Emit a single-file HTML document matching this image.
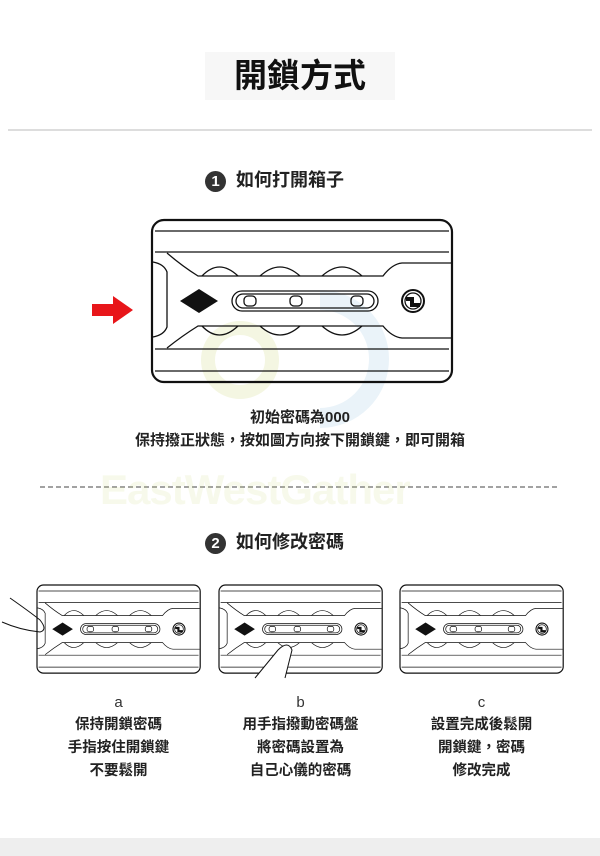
<!DOCTYPE html>
<html><head><meta charset="utf-8"><style>
html,body{margin:0;padding:0;background:#fff;}
body{width:600px;height:856px;position:relative;overflow:hidden;font-family:"Liberation Sans","Noto Sans CJK TC",sans-serif;color:#222;}
.t{position:absolute;white-space:nowrap;font-weight:bold;}
.c{text-align:center;}
</style></head><body>
<div style="position:absolute;left:205px;top:52px;width:190px;height:48px;background:#f7f7f7"></div>
<div class="t" style="left:234px;top:56px;font-size:33px;line-height:40px;color:#111">開鎖方式</div>
<div style="position:absolute;left:8px;top:129px;width:584px;height:2px;background:#ddd"></div>

<div class="t" style="left:205px;top:168px;font-size:18px;line-height:24px;"><span style="display:inline-block;width:21px;height:21px;border-radius:50%;background:#333;color:#fff;font-size:15px;line-height:21px;text-align:center;vertical-align:middle">1</span>&nbsp;&nbsp;如何打開箱子</div>

<svg width="600" height="856" style="position:absolute;left:0;top:0">
<defs>
<g id="lk" fill="none" stroke="#111" stroke-width="1.3">
<rect x="0" y="0" width="300" height="162" rx="12" stroke-width="2.2"/>
<line x1="3" y1="11" x2="297" y2="11"/>
<line x1="3" y1="32" x2="297" y2="32"/>
<line x1="3" y1="129" x2="297" y2="129"/>
<line x1="3" y1="151" x2="297" y2="151"/>
<path d="M1 42 Q12 44 15 52 L15 107 Q12 115 1 117"/>
<path d="M15 33 Q30 46 46 56 L231 56 Q240 44 250 43 L299 43"/>
<path d="M15 128 Q30 116 46 106 L231 106 Q240 117 250 118 L299 118"/>
<path d="M50 56 Q67 38 86 56 M108 56 Q128 38 148 56 M170 56 Q190 38 210 56"/>
<path d="M50 106 Q67 124 86 106 M108 106 Q128 124 148 106 M170 106 Q190 124 210 106"/>
<polygon points="28,81 47,69 66,81 47,93" fill="#111" stroke="none"/>
<rect x="80" y="71" width="146" height="20" rx="10"/>
<rect x="84" y="74" width="138" height="14" rx="7"/>
<rect x="92" y="76" width="12" height="10" rx="4"/>
<rect x="138" y="76" width="12" height="10" rx="4"/>
<rect x="199" y="76" width="12" height="10" rx="4"/>
<circle cx="261" cy="81" r="11" stroke-width="2"/>
<circle cx="261" cy="81" r="8"/>
<path d="M254 78 L261 78 L261 84 L268 84 M254 80 L259 80 L259 86 L268 86" stroke-width="2"/>
</g>
</defs>
<circle cx="240" cy="360" r="32" fill="none" stroke="#f4f6e2" stroke-width="14"/>
<path d="M320 300 A58 58 0 1 1 320 418" fill="none" stroke="#eaf3f9" stroke-width="20"/>
<use href="#lk" transform="translate(152,220)"/>
<polygon points="92,304 113,304 113,296 133,310 113,324 113,316 92,316" fill="#e8161a"/>
<line x1="40" y1="487" x2="560" y2="487" stroke="#444" stroke-width="1" stroke-dasharray="5,3"/>
<use href="#lk" transform="translate(37,585) scale(0.544)"/>
<use href="#lk" transform="translate(219,585) scale(0.544)"/>
<use href="#lk" transform="translate(400,585) scale(0.544)"/>
<path d="M10 598 Q30 612 40 620 Q48 630 40 632 Q20 630 2 622" fill="none" stroke="#111" stroke-width="1"/>
<path d="M255 678 L278 650 Q288 640 292 650 L285 678" fill="#fff" stroke="#111" stroke-width="1"/>
</svg>
<div class="t" style="left:100px;top:466px;font-size:42px;color:rgba(200,215,120,0.15);letter-spacing:-1px">EastWestGather</div>

<div class="t c" style="left:0;width:600px;top:407px;font-size:15px;line-height:22px">初始密碼為000</div>
<div class="t c" style="left:0;width:600px;top:430px;font-size:15px;line-height:22px">保持撥正狀態，按如圖方向按下開鎖鍵，即可開箱</div>

<div class="t" style="left:205px;top:530px;font-size:18px;line-height:24px;"><span style="display:inline-block;width:21px;height:21px;border-radius:50%;background:#333;color:#fff;font-size:15px;line-height:21px;text-align:center;vertical-align:middle">2</span>&nbsp;&nbsp;如何修改密碼</div>

<div class="c" style="position:absolute;left:37px;width:163px;top:692px;font-size:15px;line-height:22px;color:#333">a</div>
<div class="c" style="position:absolute;left:219px;width:163px;top:692px;font-size:15px;line-height:22px;color:#333">b</div>
<div class="c" style="position:absolute;left:400px;width:163px;top:692px;font-size:15px;line-height:22px;color:#333">c</div>
<div class="t c" style="left:27px;width:183px;top:714px;font-size:14.5px;line-height:23px">保持開鎖密碼<br>手指按住開鎖鍵<br>不要鬆開</div>
<div class="t c" style="left:209px;width:183px;top:714px;font-size:14.5px;line-height:23px">用手指撥動密碼盤<br>將密碼設置為<br>自己心儀的密碼</div>
<div class="t c" style="left:390px;width:183px;top:714px;font-size:14.5px;line-height:23px">設置完成後鬆開<br>開鎖鍵，密碼<br>修改完成</div>
<div style="position:absolute;left:0;top:838px;width:600px;height:18px;background:#eee"></div>
</body></html>
